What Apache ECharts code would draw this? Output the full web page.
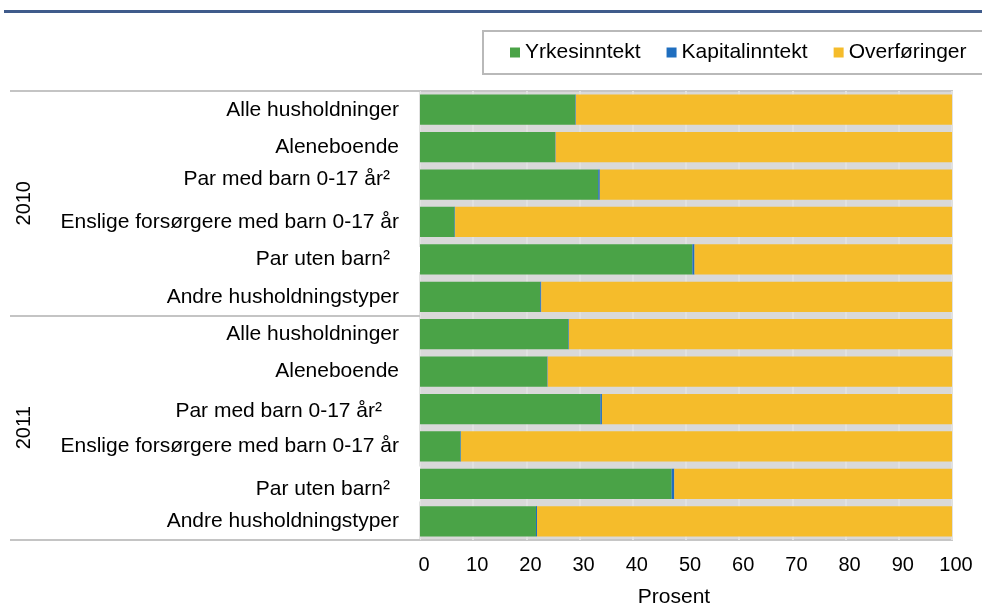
<!DOCTYPE html>
<html>
<head>
<meta charset="utf-8">
<script src="https://cdn.jsdelivr.net/npm/echarts@6/dist/echarts.min.js"></script>
<style>
  html, body { margin: 0; padding: 0; background: #ffffff; }
  #chart { width: 982px; height: 613px; }
</style>
</head>
<body>
<div id="chart"></div>
<script>
// household types (two blocks: 2010 and 2011)
const years = ["2010", "2011"];
const categories = [
  "Alle husholdninger", "Aleneboende", "Par med barn 0-17 år²",
  "Enslige forsørgere med barn 0-17 år", "Par uten barn²", "Andre husholdningstyper",
  "Alle husholdninger", "Aleneboende", "Par med barn 0-17 år²",
  "Enslige forsørgere med barn 0-17 år", "Par uten barn²", "Andre husholdningstyper"
];
// label style per row (some labels sit a bit off in the original)
const labelStyle = ["n", "n", "pm10", "n", "pu10", "n", "n", "n", "pm11", "n", "pu11", "n"];

const yrkesinntekt   = [29.2, 25.4, 33.5, 6.5, 51.2, 22.6, 27.9, 23.9, 33.9, 7.6, 47.3, 21.8];
const kapitalinntekt = [0.1, 0.1, 0.3, 0.1, 0.4, 0.2, 0.1, 0.1, 0.3, 0.1, 0.5, 0.2];
const overforinger   = [70.7, 74.5, 66.2, 93.4, 48.4, 77.2, 72.0, 76.0, 65.8, 92.3, 52.2, 78.0];

const xTicks = [0, 100, 10]; // min, max, interval

const FONT = "Liberation Sans, Arial, sans-serif";

const chart = echarts.init(document.getElementById("chart"));

const barSeries = (name, data, color) => ({
  name: name,
  type: "bar",
  stack: "total",
  data: data,
  barCategoryGap: "19%",
  itemStyle: { color: color },
  emphasis: { disabled: true }
});

chart.setOption({
  backgroundColor: "#ffffff",
  animation: false,
  textStyle: { fontFamily: FONT },
  graphic: [
    // blue rule under the (cut off) heading
    { type: "rect", left: 4, top: 10, shape: { width: 980, height: 3 }, style: { fill: "#3f5b8b" } }
  ],
  legend: {
    left: 483,
    top: 31,
    width: 620,
    padding: [11, 40, 11, 27],
    borderColor: "#b9b9b9",
    borderWidth: 2,
    itemGap: 26,
    itemWidth: 10,
    itemHeight: 10,
    icon: "rect",
    textStyle: { fontSize: 21, color: "#000000", fontFamily: FONT },
    data: ["Yrkesinntekt", "Kapitalinntekt", "Overføringer"]
  },
  grid: {
    left: 420,
    right: 30,
    top: 91,
    bottom: 67,
    show: true,
    backgroundColor: "#d9d9d9",
    borderColor: "#c6c6c6",
    borderWidth: 2
  },
  xAxis: {
    type: "value",
    min: xTicks[0],
    max: xTicks[1],
    interval: xTicks[2],
    axisLine: { show: false },
    axisTick: { show: false },
    splitLine: { show: true, lineStyle: { color: "#e1e1e1", width: 2 } },
    axisLabel: {
      fontSize: 20,
      color: "#000000",
      margin: 15,
      padding: [0, 0, 0, 8],
      fontFamily: FONT
    },
    name: "Prosent",
    nameLocation: "middle",
    nameGap: 47,
    nameTextStyle: { fontSize: 21, color: "#000000", padding: [0, 24, 0, 0], fontFamily: FONT }
  },
  yAxis: [
    {
      type: "category",
      inverse: true,
      data: categories,
      axisLine: { show: false },
      axisTick: { show: false },
      axisLabel: {
        margin: 0,
        fontSize: 21,
        color: "#000000",
        fontFamily: FONT,
        formatter: (value, index) => "{" + labelStyle[index] + "|" + value + "}",
        rich: {
          n: { fontSize: 21, color: "#000", fontFamily: FONT, padding: [0, 21, 0, 0] },
          pm10: { fontSize: 21, color: "#000", fontFamily: FONT, padding: [0, 30, 10, 0] },
          pm11: { fontSize: 21, color: "#000", fontFamily: FONT, padding: [4, 38, 0, 0] },
          pu10: { fontSize: 21, color: "#000", fontFamily: FONT, padding: [2, 30, 2, 4], backgroundColor: "#ffffff" },
          pu11: { fontSize: 21, color: "#000", fontFamily: FONT, padding: [12, 30, 2, 4], backgroundColor: "#ffffff" }
        }
      }
    },
    {
      type: "category",
      inverse: true,
      position: "left",
      data: years,
      axisLine: { show: false },
      axisTick: { show: true, length: 410, lineStyle: { color: "#c4c4c4", width: 2 } },
      splitLine: { show: false },
      axisLabel: {
        rotate: 90,
        margin: 386,
        fontSize: 20,
        color: "#000000",
        fontFamily: FONT
      }
    }
  ],
  series: [
    barSeries("Yrkesinntekt", yrkesinntekt, "#4aa347"),
    barSeries("Kapitalinntekt", kapitalinntekt, "#1f6ebf"),
    barSeries("Overføringer", overforinger, "#f5bc2b")
  ]
});
</script>
</body>
</html>
